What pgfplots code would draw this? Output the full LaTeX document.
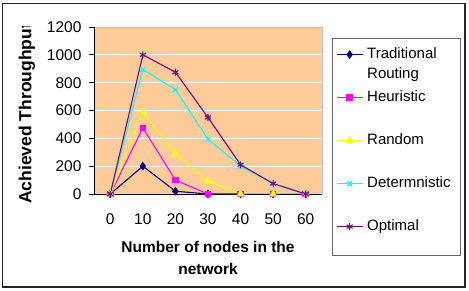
\documentclass[border=0pt]{standalone}
\usepackage{pgfplots}
\pgfplotsset{compat=1.18}
\usepackage{fontspec}
\setmainfont{Liberation Sans}
\definecolor{bgpeach}{HTML}{FFCC99}
\definecolor{snavy}{HTML}{000080}
\definecolor{smag}{HTML}{FF00FF}
\definecolor{syel}{HTML}{FFFF00}
\definecolor{scyan}{HTML}{00FFFF}
\definecolor{spurp}{HTML}{800080}
\begin{document}
\begin{tikzpicture}[x=1pt,y=1pt]
\useasboundingbox (0,0) rectangle (469,290);
\draw[line width=1.3pt, black!85] (2.5,3) rectangle (465,286.5);
\draw[gray!80!black, line width=0.8pt] (332,35) rectangle (460.5,252);
\begin{scope}
\clip (0,0) rectangle (469,263);
\node[rotate=90, anchor=west, inner sep=0pt, font=\fontsize{17.5}{20}\selectfont\bfseries] at (27,86) {Achieved Throughput};
\end{scope}
\begin{axis}[
  at={(94pt,96pt)}, anchor=south west,
  scale only axis, width=228pt, height=167pt,
  xmin=-0.5, xmax=6.5, ymin=0, ymax=1200,
  ytick={0,200,...,1200},
  xtick={0,...,6}, xticklabels={0,10,20,30,40,50,60},
  minor xtick={-0.5,0.5,...,6.5},
  xtick pos=bottom, ytick pos=left,
  tick align=outside,
  major tick length=5pt, minor tick length=4.5pt,
  xtick style={draw=none},
  ytick style={black, line width=0.8pt},
  minor x tick style={black, line width=0.8pt},
  axis line style={draw=gray!50},
  axis background/.style={fill=bgpeach},
  ymajorgrids, major grid style={white, line width=1pt},
  /pgf/number format/assume math mode=true,
  /pgf/number format/1000 sep={},
  tick label style={font=\fontsize{15.5}{18}\selectfont},
  xticklabel style={yshift=-11pt},
  yticklabel style={xshift=-4pt},
  xlabel={Number of nodes in the\\network},
  xlabel style={font=\fontsize{15.5}{22}\selectfont\bfseries, align=center, yshift=-10pt},
  legend style={draw=none, fill=none, at={(axis description cs:1.061,0.890)}, anchor=north west,
    inner sep=0pt, row sep=25pt, column sep=2pt, font=\fontsize{15}{20}\selectfont,
    nodes={text height=11pt, text depth=3pt, inner sep=2pt}},
  legend cell align=left,
  legend image code/.code={\draw[#1] (0pt,0pt) -- (26pt,0pt);
     \draw[mark repeat=2,mark phase=2,#1] plot coordinates {(0pt,0pt)(13pt,0pt)(26pt,0pt)};},
  every axis plot/.append style={line width=1.1pt},
]
\addplot[snavy, mark=diamond*, mark size=3.5pt, mark options={solid}] coordinates {(0,0)(1,200)(2,20)(3,0)(4,0)(5,0)(6,0)};
\addlegendentry{\begin{tabular}[t]{@{}l@{}}Traditional\\Routing\end{tabular}}
\addplot[smag, mark=square*, mark size=2.8pt] coordinates {(0,0)(1,475)(2,100)(3,0)(4,0)(5,0)(6,0)};
\addlegendentry{Heuristic}
\addplot[syel, mark=triangle*, mark size=3.5pt] coordinates {(0,0)(1,590)(2,290)(3,95)(4,0)(5,0)(6,0)};
\addlegendentry{Random}
\addplot[scyan, mark=x, mark size=3.5pt] coordinates {(0,0)(1,895)(2,750)(3,395)(4,200)(5,75)(6,0)};
\addlegendentry{Determnistic}
\addplot[spurp, mark=asterisk, mark size=3.5pt] coordinates {(0,0)(1,1000)(2,875)(3,550)(4,210)(5,75)(6,0)};
\addlegendentry{Optimal}
\draw[black, line width=0.9pt] (rel axis cs:0,1) -- (rel axis cs:0,0) -- (rel axis cs:1,0);
\end{axis}
\end{tikzpicture}
\end{document}
